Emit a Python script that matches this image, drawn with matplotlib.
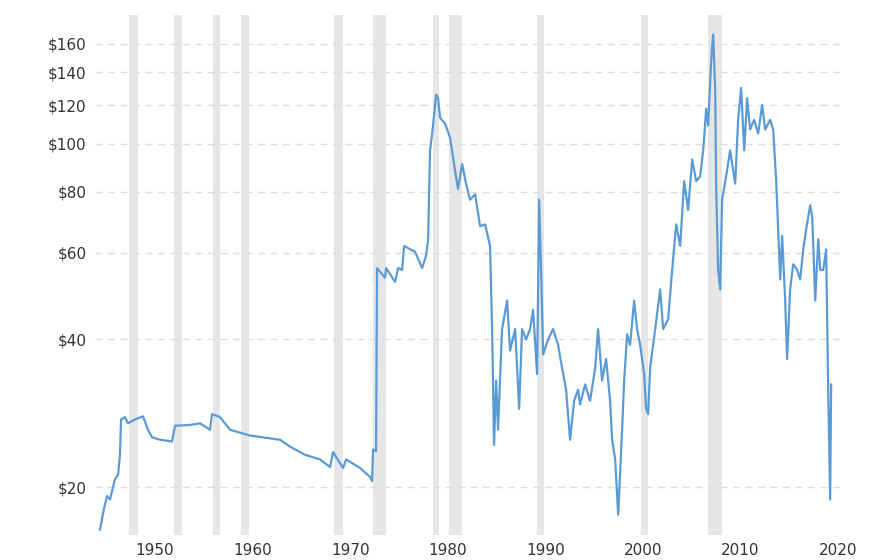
import matplotlib
matplotlib.use("Agg")
import matplotlib.pyplot as plt
from matplotlib.ticker import FixedLocator, NullLocator

years = [1944.36,1944.77,1945.08,1945.39,1945.90,1946.21,1946.41,1946.52,1946.93,1947.23,1947.95,1948.77,1949.28,1949.69,1950.51,1951.74,1952.05,1953.59,1954.61,1955.12,1955.64,1955.84,1956.66,1957.69,1959.74,1962.81,1963.84,1965.37,1966.91,1967.94,1968.24,1969.27,1969.58,1971.01,1972.04,1972.24,1972.34,1972.65,1972.75,1973.57,1973.68,1974.60,1974.91,1975.32,1975.52,1976.65,1977.37,1977.77,1977.98,1978.18,1978.49,1978.80,1979.00,1979.21,1979.72,1980.23,1980.75,1981.05,1981.47,1981.87,1982.28,1982.80,1983.31,1983.82,1984.33,1984.54,1984.74,1984.95,1985.15,1985.56,1986.08,1986.38,1986.90,1987.31,1987.61,1988.02,1988.43,1988.74,1989.15,1989.36,1989.56,1989.77,1990.28,1990.79,1991.30,1991.71,1992.12,1992.53,1992.94,1993.35,1993.56,1994.07,1994.58,1995.10,1995.40,1995.81,1996.22,1996.63,1996.84,1997.15,1997.46,1997.86,1998.07,1998.38,1998.68,1999.09,1999.40,1999.71,2000.12,2000.32,2000.53,2000.73,2001.25,2001.76,2002.07,2002.58,2002.99,2003.40,2003.81,2004.22,2004.63,2005.04,2005.45,2005.86,2006.17,2006.48,2006.68,2006.99,2007.19,2007.40,2007.50,2007.70,2007.91,2008.11,2008.52,2008.93,2009.45,2009.75,2010.06,2010.37,2010.67,2010.98,2011.39,2011.80,2012.21,2012.52,2013.03,2013.34,2013.65,2013.85,2014.06,2014.26,2014.57,2014.77,2015.08,2015.39,2015.80,2016.11,2016.42,2016.72,2017.13,2017.34,2017.65,2017.96,2018.16,2018.47,2018.77,2018.98,2019.18,2019.28]
prices = [16.4,18.1,19.2,18.9,20.8,21.2,23.3,27.5,27.8,27.0,27.5,27.9,26.2,25.3,25.0,24.8,26.7,26.8,27.0,26.6,26.2,28.2,27.8,26.2,25.5,25.0,24.2,23.3,22.8,22.0,23.6,21.9,22.8,21.9,21.0,20.6,23.9,23.7,55.9,53.4,55.9,52.4,55.9,55.4,62.0,60.3,55.9,59.2,63.8,97,109,126,124,113,110,103,88,81,91,83,77,79,68,68.6,62,42,24.4,33,26.2,42,48,38,42,28.9,42,40,42,46,34,77,55.4,37.3,40,42,39,35,31.6,25,30,31.6,29.5,32.4,30,35,42,33,36.5,30,25,22.8,17.6,26.2,33,41,39,48,42,39,34,28.9,28.2,35,42,50.6,42,44,55.4,68.6,62,84,73.4,93,84,86,97,118,109,148,167,129,81,55.4,50.6,77,86,97,83,112,130,97,124,107,112,105,120,107,112,107,84,67,53,65,48,36.5,50.6,56.9,55.4,53,61,67,75,71,48,64,55.4,55.4,61,31.6,18.9,32.4]

recessions = [(1947.34,1948.26),(1951.95,1952.77),(1955.94,1956.66),(1958.81,1959.63),
              (1968.35,1969.27),(1972.34,1973.68),(1978.49,1979.11),(1980.13,1981.47),
              (1989.15,1989.87),(1999.81,2000.53),(2006.68,2008.11)]
y_ticks = [20,40,60,80,100,120,140,160]
x_ticks = [1950,1960,1970,1980,1990,2000,2010,2020]

fig = plt.figure(figsize=(8.88,5.60), dpi=100)
ax = fig.add_axes([95/888, 1-535/560, (845-95)/888, (535-15)/560])
for a,b in recessions:
    ax.axvspan(a,b,color="#e6e6e6",lw=0,zorder=0)
ax.plot(years,prices,color="#5b9bd5",lw=1.6,zorder=3)
ax.set_yscale("log")
ax.set_ylim(16.0,183)
ax.set_xlim(1943.85,2020.7)
ax.yaxis.set_major_locator(FixedLocator(y_ticks))
ax.yaxis.set_minor_locator(NullLocator())
ax.set_yticklabels([f"${v}" for v in y_ticks])
ax.set_xticks(x_ticks)
ax.set_xticklabels([str(v) for v in x_ticks])
ax.grid(axis="y",color="#dddddd",ls=(0,(5,4)),lw=1)
ax.set_axisbelow(True)
for s in ax.spines.values(): s.set_visible(False)
ax.tick_params(length=0,labelsize=11,colors="#333333",pad=6)
fig.savefig("out.png",dpi=100)
